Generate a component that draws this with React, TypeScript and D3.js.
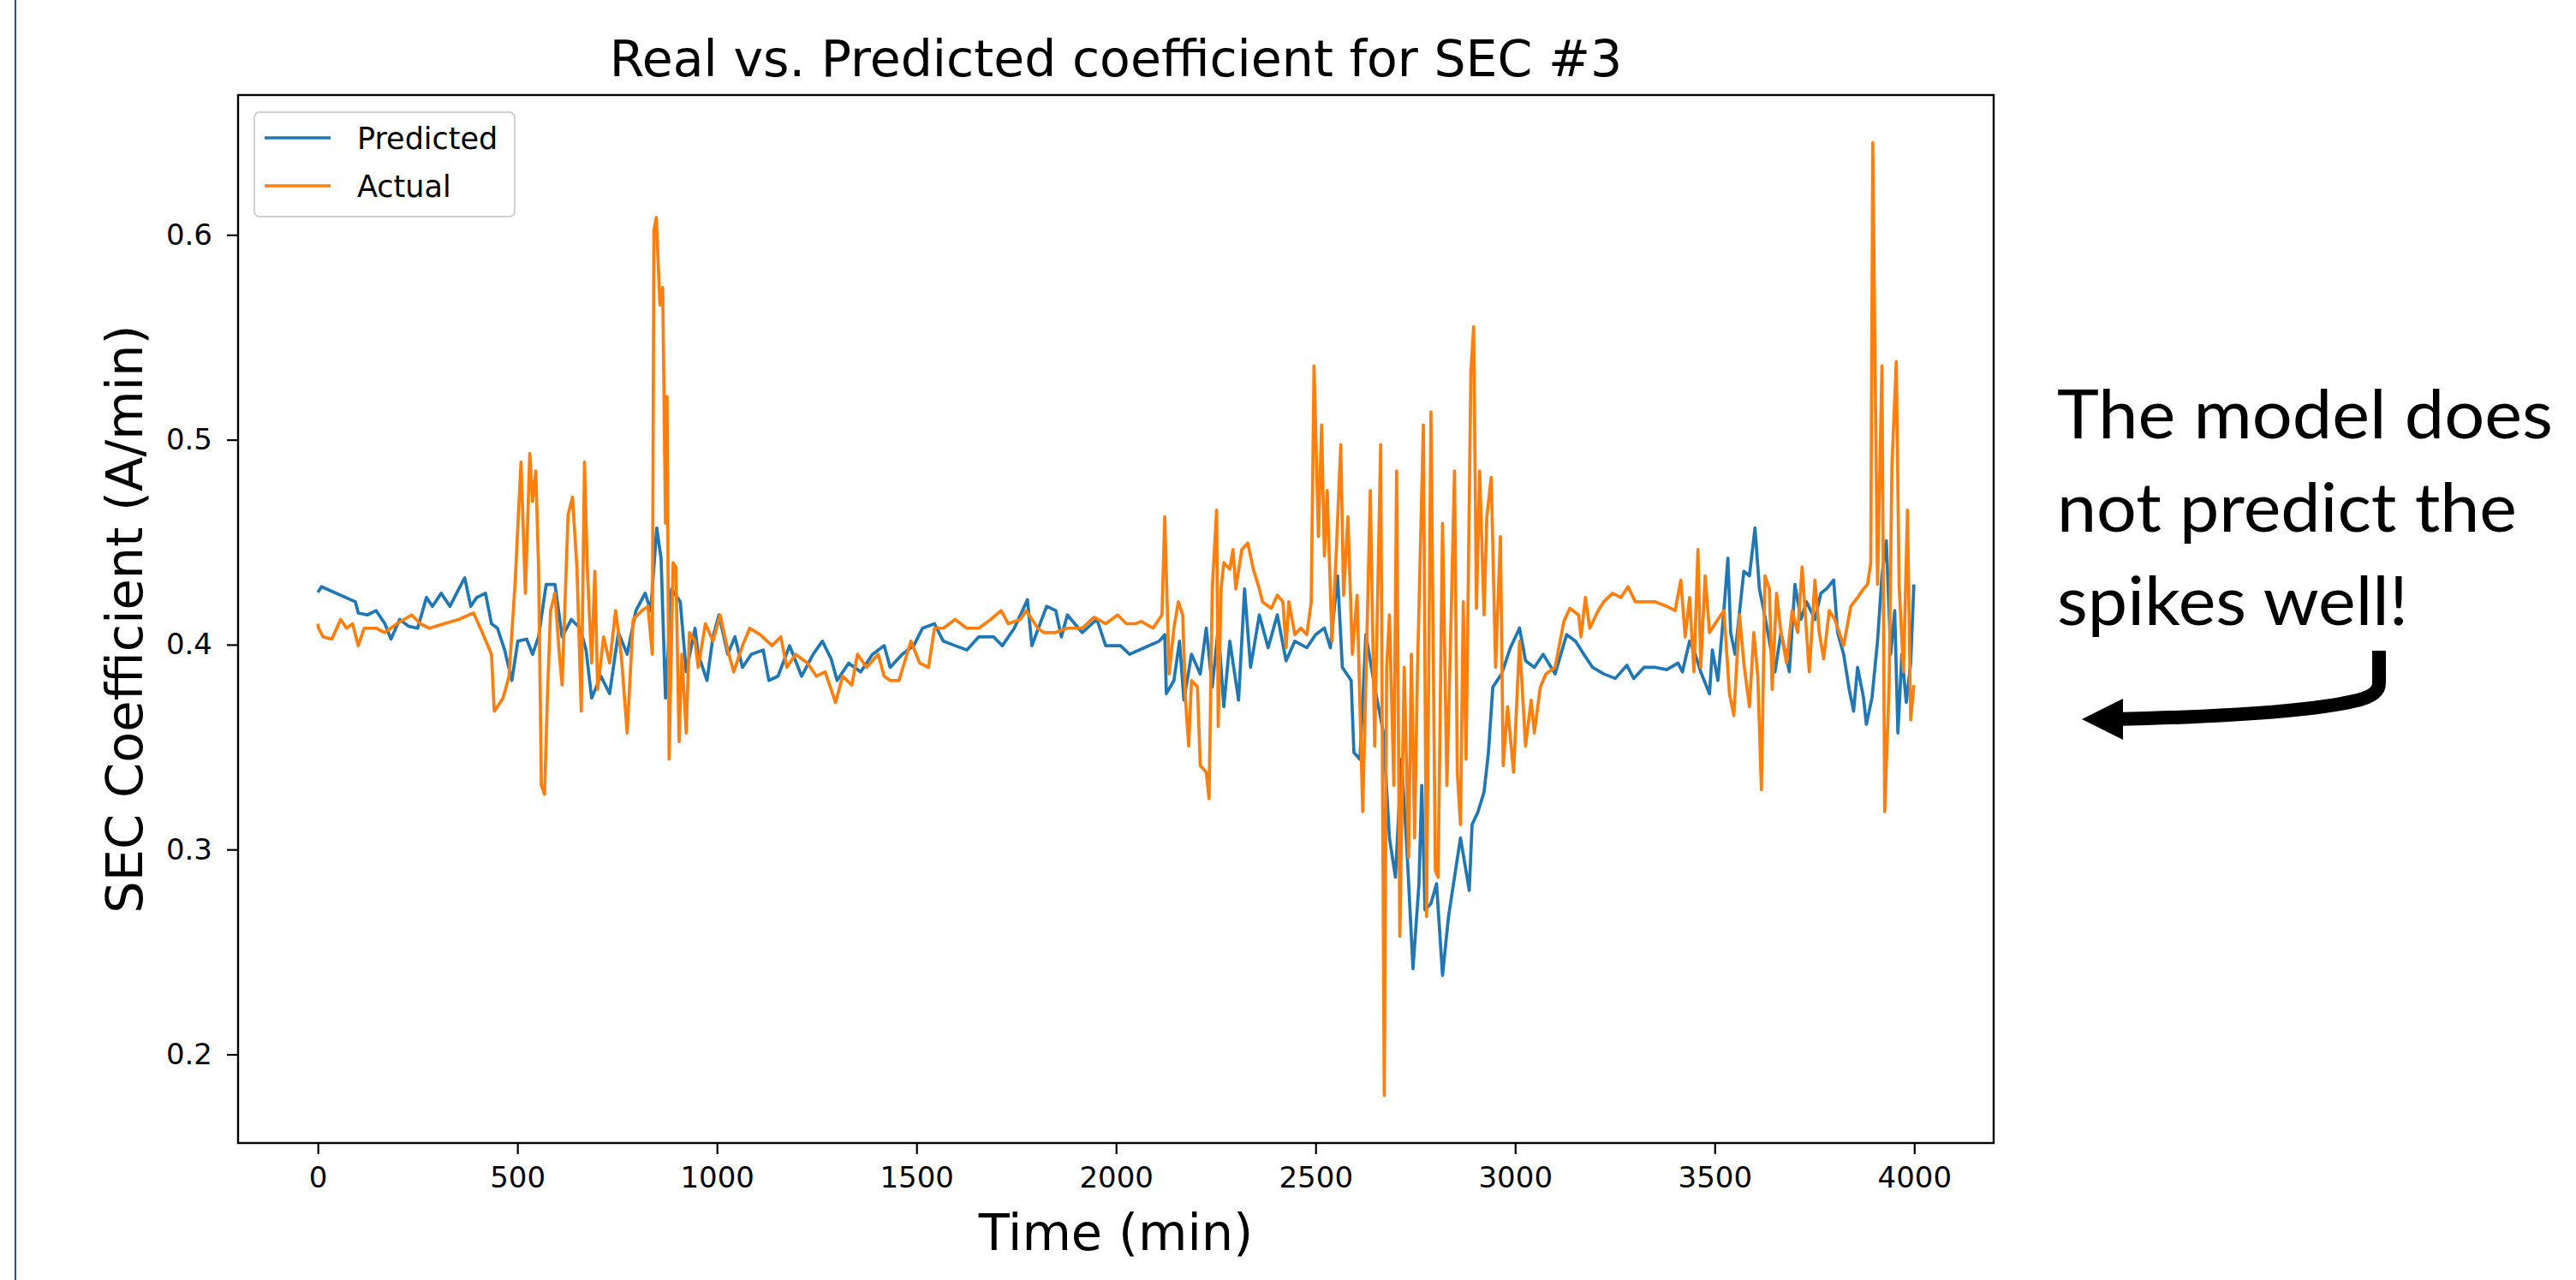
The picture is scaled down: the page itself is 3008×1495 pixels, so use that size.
import React, { useEffect, useRef } from 'react';
import * as d3 from 'd3';

// SEC #3 coefficient (time in minutes)
const predictedTime = [
  0, 9, 94, 101, 124, 146, 168, 183, 205, 227, 250, 272, 287, 309, 331, 353, 368, 383, 398, 420,
  435, 450, 468, 486, 501, 523, 538, 553, 572, 594, 612, 635, 657, 672, 686, 709, 731, 753, 775, 797,
  820, 834, 849, 860, 871, 886, 908, 923, 945, 953, 975, 990, 1005, 1027, 1045, 1064, 1086, 1116, 1130, 1153,
  1182, 1212, 1241, 1264, 1286, 1301, 1330, 1360, 1390, 1419, 1434, 1464, 1493, 1515, 1545, 1567, 1597, 1626, 1656, 1693,
  1715, 1745, 1778, 1789, 1826, 1849, 1863, 1878, 1915, 1952, 1974, 2011, 2034, 2071, 2108, 2122, 2126, 2145, 2159, 2170,
  2189, 2211, 2226, 2241, 2256, 2270, 2285, 2307, 2322, 2337, 2359, 2381, 2404, 2426, 2448, 2478, 2500, 2522, 2537, 2555,
  2567, 2589, 2596, 2611, 2626, 2648, 2670, 2685, 2700, 2715, 2729, 2744, 2759, 2766, 2774, 2789, 2803, 2818, 2833, 2848,
  2863, 2885, 2892, 2907, 2922, 2933, 2944, 2966, 2988, 3011, 3026, 3048, 3070, 3100, 3129, 3151, 3172, 3194, 3222, 3251,
  3280, 3297, 3323, 3351, 3380, 3408, 3419, 3437, 3451, 3465, 3487, 3494, 3508, 3523, 3533, 3540, 3551, 3573, 3587, 3601,
  3612, 3623, 3637, 3651, 3666, 3687, 3701, 3716, 3730, 3751, 3766, 3780, 3798, 3808, 3823, 3837, 3848, 3858, 3873, 3880,
  3894, 3908, 3919, 3930, 3941, 3951, 3959, 3969, 3980, 3991, 3999,
];
const predictedValue = [
  0.4255, 0.4283, 0.4209, 0.4155, 0.4145, 0.4166, 0.4102, 0.4027, 0.4123, 0.409, 0.408, 0.423, 0.4187, 0.4251, 0.4187, 0.4272, 0.4326, 0.4187, 0.423, 0.4251,
  0.4102, 0.408, 0.3974, 0.3825, 0.4017, 0.4027, 0.3953, 0.4038, 0.4294, 0.4294, 0.4038, 0.4123, 0.408, 0.3974, 0.3739, 0.3846, 0.3761, 0.4059, 0.3953, 0.4166,
  0.4251, 0.4166, 0.457, 0.442, 0.3739, 0.4272, 0.4209, 0.3867, 0.408, 0.3953, 0.3825, 0.4038, 0.4145, 0.3953, 0.4038, 0.3889, 0.3953, 0.3974, 0.3825, 0.3846,
  0.3995, 0.3846, 0.3953, 0.4017, 0.3931, 0.3825, 0.391, 0.3867, 0.3953, 0.3995, 0.3889, 0.3953, 0.3995, 0.408, 0.4102, 0.4017, 0.3995, 0.3974, 0.4038, 0.4038,
  0.3995, 0.408, 0.4219, 0.3995, 0.4187, 0.4166, 0.4038, 0.4145, 0.4059, 0.4123, 0.3995, 0.3995, 0.3953, 0.3985, 0.4017, 0.4049, 0.3761, 0.3825, 0.4017, 0.3729,
  0.3953, 0.3857, 0.4081, 0.3793, 0.4081, 0.3697, 0.4017, 0.3729, 0.4272, 0.3889, 0.4145, 0.3985, 0.4145, 0.3921, 0.4017, 0.3985, 0.4049, 0.4081, 0.3985, 0.4336,
  0.3889, 0.3825, 0.3473, 0.3441, 0.4049, 0.3793, 0.3569, 0.3057, 0.2865, 0.3441, 0.2993, 0.2418, 0.2833, 0.3313, 0.2705, 0.2737, 0.2833, 0.2386, 0.2673, 0.2865,
  0.3057, 0.2801, 0.3121, 0.3185, 0.3281, 0.3473, 0.3793, 0.3857, 0.3985, 0.4081, 0.3921, 0.3889, 0.3953, 0.3857, 0.4049, 0.4017, 0.3953, 0.3889, 0.3857, 0.3835,
  0.3899, 0.3835, 0.3889, 0.3889, 0.3878, 0.391, 0.3867, 0.4017, 0.3953, 0.3867, 0.376, 0.3974, 0.3825, 0.4166, 0.4422, 0.4059, 0.3953, 0.4358, 0.4336, 0.457,
  0.4272, 0.4166, 0.4017, 0.3867, 0.4059, 0.3867, 0.4294, 0.4123, 0.4209, 0.4123, 0.4251, 0.4272, 0.4315, 0.4059, 0.3953, 0.3782, 0.3675, 0.3889, 0.3739, 0.3611,
  0.3739, 0.4017, 0.4336, 0.4507, 0.3953, 0.4166, 0.3569, 0.3953, 0.3718, 0.391, 0.4294,
];

const actualTime = [
  0, 2, 13, 35, 57, 72, 87, 101, 116, 146, 168, 198, 235, 257, 279, 316, 353, 390, 412, 435,
  442, 464, 479, 494, 509, 520, 531, 538, 546, 553, 560, 568, 575, 583, 594, 605, 612, 627, 638, 649,
  660, 668, 675, 686, 694, 701, 716, 731, 746, 760, 775, 790, 812, 827, 838, 842, 848, 857, 864, 871,
  875, 880, 890, 897, 905, 912, 923, 931, 945, 953, 971, 990, 1008, 1027, 1042, 1064, 1082, 1108, 1138, 1160,
  1175, 1197, 1227, 1249, 1271, 1286, 1297, 1315, 1338, 1352, 1375, 1404, 1419, 1434, 1456, 1486, 1508, 1530, 1545, 1567,
  1597, 1626, 1656, 1686, 1712, 1730, 1760, 1775, 1804, 1819, 1848, 1878, 1915, 1945, 1974, 2004, 2026, 2048, 2063, 2093,
  2115, 2122, 2133, 2145, 2156, 2167, 2174, 2182, 2189, 2204, 2211, 2226, 2233, 2241, 2252, 2256, 2263, 2270, 2285, 2293,
  2300, 2315, 2330, 2344, 2359, 2367, 2389, 2404, 2418, 2426, 2433, 2448, 2463, 2478, 2489, 2496, 2507, 2515, 2522, 2529,
  2541, 2552, 2563, 2570, 2581, 2592, 2604, 2618, 2626, 2637, 2648, 2663, 2672, 2678, 2685, 2696, 2703, 2711, 2722, 2733,
  2740, 2748, 2755, 2770, 2778, 2789, 2800, 2807, 2818, 2829, 2840, 2848, 2855, 2863, 2870, 2877, 2889, 2896, 2903, 2911,
  2922, 2929, 2940, 2951, 2963, 2970, 2981, 2996, 3011, 3026, 3040, 3048, 3063, 3077, 3100, 3122, 3137, 3159, 3165, 3176,
  3187, 3208, 3222, 3244, 3265, 3283, 3301, 3323, 3351, 3380, 3401, 3415, 3426, 3437, 3448, 3458, 3465, 3476, 3487, 3508,
  3523, 3537, 3548, 3562, 3573, 3587, 3598, 3608, 3617, 3626, 3637, 3644, 3655, 3666, 3680, 3694, 3708, 3719, 3730, 3737,
  3751, 3762, 3773, 3787, 3801, 3823, 3841, 3858, 3873, 3883, 3891, 3896, 3903, 3908, 3919, 3926, 3937, 3944, 3955, 3962,
  3973, 3983, 3991, 3999,
];
const actualValue = [
  0.4102, 0.408, 0.4038, 0.4027, 0.4123, 0.408, 0.4102, 0.3995, 0.408, 0.408, 0.4059, 0.4102, 0.4145, 0.4102, 0.408, 0.4102, 0.4123, 0.4155, 0.4059, 0.3953,
  0.3675, 0.3739, 0.3846, 0.4294, 0.4891, 0.4251, 0.4933, 0.4699, 0.4848, 0.4379, 0.3313, 0.327, 0.3739, 0.4166, 0.4251, 0.3953, 0.3803, 0.4635, 0.472, 0.4379,
  0.3675, 0.4891, 0.4379, 0.391, 0.4358, 0.3782, 0.4038, 0.391, 0.4166, 0.3953, 0.3569, 0.4123, 0.4166, 0.4187, 0.3953, 0.6021, 0.6085, 0.5658, 0.5743, 0.4592,
  0.5211, 0.3441, 0.44, 0.4379, 0.3526, 0.3953, 0.3569, 0.4059, 0.4017, 0.3889, 0.4102, 0.4017, 0.4145, 0.3974, 0.3867, 0.3995, 0.408, 0.4049, 0.3995, 0.4038,
  0.3889, 0.3953, 0.391, 0.3846, 0.3867, 0.3782, 0.3718, 0.3846, 0.3803, 0.3953, 0.3889, 0.3953, 0.3846, 0.3825, 0.3825, 0.4017, 0.391, 0.3889, 0.408, 0.408,
  0.4123, 0.408, 0.408, 0.4123, 0.4166, 0.4102, 0.4123, 0.4166, 0.408, 0.4059, 0.4059, 0.408, 0.408, 0.4134, 0.4102, 0.4145, 0.4102, 0.4102, 0.4113, 0.4081,
  0.4145, 0.4624, 0.3857, 0.4081, 0.4209, 0.4145, 0.3729, 0.3505, 0.3825, 0.3793, 0.3409, 0.3377, 0.3249, 0.4272, 0.4656, 0.3601, 0.4272, 0.44, 0.4368, 0.4464,
  0.4272, 0.4464, 0.4496, 0.4368, 0.4272, 0.4209, 0.4177, 0.4241, 0.4209, 0.3985, 0.4209, 0.4049, 0.4081, 0.4049, 0.4209, 0.536, 0.4528, 0.5072, 0.4432, 0.4752,
  0.4017, 0.4464, 0.4976, 0.4241, 0.4624, 0.3953, 0.4241, 0.3185, 0.3825, 0.4752, 0.3505, 0.4976, 0.18, 0.3889, 0.4145, 0.3313, 0.4848, 0.2577, 0.3889, 0.2961,
  0.3953, 0.3057, 0.3857, 0.5072, 0.2673, 0.5136, 0.2897, 0.2865, 0.4592, 0.3313, 0.4177, 0.4848, 0.3377, 0.3121, 0.4209, 0.3441, 0.5328, 0.5552, 0.4177, 0.4848,
  0.4145, 0.4624, 0.4816, 0.3889, 0.4528, 0.3409, 0.3697, 0.3377, 0.4017, 0.3505, 0.3729, 0.3569, 0.3793, 0.3857, 0.3889, 0.4113, 0.4177, 0.4145, 0.4038, 0.423,
  0.408, 0.4166, 0.4209, 0.4251, 0.423, 0.4283, 0.4209, 0.4209, 0.4209, 0.4187, 0.4166, 0.4315, 0.4038, 0.423, 0.3867, 0.4464, 0.3889, 0.4336, 0.4059, 0.4123,
  0.4166, 0.376, 0.3654, 0.4145, 0.391, 0.3697, 0.4059, 0.3846, 0.3292, 0.4336, 0.4272, 0.3782, 0.4251, 0.4059, 0.391, 0.4166, 0.4059, 0.4379, 0.4059, 0.3867,
  0.4315, 0.4059, 0.3931, 0.4166, 0.4123, 0.3995, 0.4187, 0.423, 0.4272, 0.4294, 0.44, 0.645, 0.5147, 0.4294, 0.536, 0.3185, 0.3803, 0.4869, 0.5381, 0.4294,
  0.3867, 0.4656, 0.3633, 0.3803,
];

const xTicks = [0, 500, 1000, 1500, 2000, 2500, 3000, 3500, 4000];
const yTicks = [0.2, 0.3, 0.4, 0.5, 0.6];
const seriesNames = ['Predicted', 'Actual'];
const seriesColors = ['#1f77b4', '#ff7f0e'];
const noteLines = ['The model does', 'not predict the', 'spikes well!'];

const W = 3008;
const H = 1495;

const App: React.FC = () => {
  const svgRef = useRef<SVGSVGElement>(null);

  useEffect(() => {
    if (!svgRef.current) return;
    const svg = d3.select(svgRef.current);
    svg.selectAll('*').remove();

    const margin = { top: 111, right: W - 2328, bottom: H - 1335, left: 278 };
    const plotW = W - margin.left - margin.right;
    const plotH = H - margin.top - margin.bottom;
    const font = '"DejaVu Sans", sans-serif';

    const predicted = predictedTime.map((t, i) => ({ t, v: predictedValue[i] }));
    const actual = actualTime.map((t, i) => ({ t, v: actualValue[i] }));
    const all = predicted.concat(actual);

    // matplotlib-style 5% margins around the data
    const [tMin, tMax] = d3.extent(all, d => d.t) as [number, number];
    const [vMin, vMax] = d3.extent(all, d => d.v) as [number, number];
    const tPad = (tMax - tMin) * 0.05;
    const vPad = (vMax - vMin) * 0.05;

    const xScale = d3.scaleLinear().domain([tMin - tPad, tMax + tPad]).range([0, plotW]);
    const yScale = d3.scaleLinear().domain([vMin - vPad, vMax + vPad]).range([plotH, 0]);

    svg.append('rect').attr('width', W).attr('height', H).attr('fill', '#ffffff');

    // slide border on the left
    svg.append('line')
      .attr('x1', 18).attr('x2', 18).attr('y1', 0).attr('y2', H)
      .attr('stroke', '#2f4f99').attr('stroke-width', 2);

    const g = svg.append('g').attr('transform', `translate(${margin.left},${margin.top})`);

    g.append('defs').append('clipPath').attr('id', 'plot-clip')
      .append('rect').attr('width', plotW).attr('height', plotH);

    const line = d3.line<{ t: number; v: number }>()
      .x(d => xScale(d.t))
      .y(d => yScale(d.v));

    const lines = g.append('g').attr('clip-path', 'url(#plot-clip)');
    [predicted, actual].forEach((series, i) => {
      lines.append('path')
        .datum(series)
        .attr('fill', 'none')
        .attr('stroke', seriesColors[i])
        .attr('stroke-width', 3.7)
        .attr('stroke-linejoin', 'round')
        .attr('d', line);
    });

    // axes
    const xAxis = g.append('g')
      .attr('transform', `translate(0,${plotH})`)
      .call(d3.axisBottom(xScale).tickValues(xTicks).tickFormat(d3.format('d')).tickSize(13).tickPadding(15));
    const yAxis = g.append('g')
      .call(d3.axisLeft(yScale).tickValues(yTicks).tickFormat(d3.format('.1f')).tickSize(13).tickPadding(17));

    [xAxis, yAxis].forEach(ax => {
      ax.select('.domain').remove();
      ax.selectAll('line').attr('stroke', '#000').attr('stroke-width', 2.2);
      ax.selectAll('text').attr('fill', '#000').style('font-family', font).style('font-size', '34px');
    });

    g.append('rect')
      .attr('width', plotW).attr('height', plotH)
      .attr('fill', 'none').attr('stroke', '#000').attr('stroke-width', 2.4);

    // legend
    const legend = g.append('g').attr('transform', 'translate(19,20)');
    legend.append('rect')
      .attr('width', 304).attr('height', 122).attr('rx', 6)
      .attr('fill', '#ffffff').attr('fill-opacity', 0.8)
      .attr('stroke', '#d0d0d0').attr('stroke-width', 2);
    seriesNames.forEach((name, i) => {
      const cy = 30 + i * 56;
      legend.append('line')
        .attr('x1', 12).attr('x2', 89).attr('y1', cy).attr('y2', cy)
        .attr('stroke', seriesColors[i]).attr('stroke-width', 3.4);
      legend.append('text')
        .attr('x', 120).attr('y', cy + 13)
        .style('font-family', font).style('font-size', '35px')
        .attr('fill', '#000')
        .text(name);
    });

    // titles
    svg.append('text')
      .attr('x', margin.left + plotW / 2).attr('y', 89)
      .attr('text-anchor', 'middle')
      .style('font-family', font).style('font-size', '58.5px')
      .text('Real vs. Predicted coefficient for SEC #3');

    svg.append('text')
      .attr('x', margin.left + plotW / 2).attr('y', 1460)
      .attr('text-anchor', 'middle')
      .style('font-family', font).style('font-size', '59px')
      .text('Time (min)');

    svg.append('text')
      .attr('transform', `translate(166,${margin.top + plotH / 2}) rotate(-90)`)
      .attr('text-anchor', 'middle')
      .style('font-family', font).style('font-size', '59px')
      .text('SEC Coefficient (A/min)');

    // annotation on the right
    const noteWidths = [579, 537, 410];
    noteLines.forEach((txt, i) => {
      svg.append('text')
        .attr('x', 2402).attr('y', 512 + i * 109)
        .attr('textLength', noteWidths[i]).attr('lengthAdjust', 'spacingAndGlyphs')
        .style('font-family', 'Lato, "Open Sans", sans-serif').style('font-size', '80px')
        .attr('fill', '#000')
        .text(txt);
    });

    svg.append('path')
      .attr('d', 'M2778,760 L2778,798 Q2778,813 2748,819 C2700,830 2600,837 2470,840')
      .attr('fill', 'none').attr('stroke', '#000').attr('stroke-width', 16);
    svg.append('path')
      .attr('d', 'M2431,840 L2479,816 L2479,864 Z')
      .attr('fill', '#000');
  }, []);

  return (
    <svg
      ref={svgRef}
      width={W}
      height={H}
      style={{ position: 'absolute', left: 0, top: 0, display: 'block' }}
    />
  );
};

export default App;
